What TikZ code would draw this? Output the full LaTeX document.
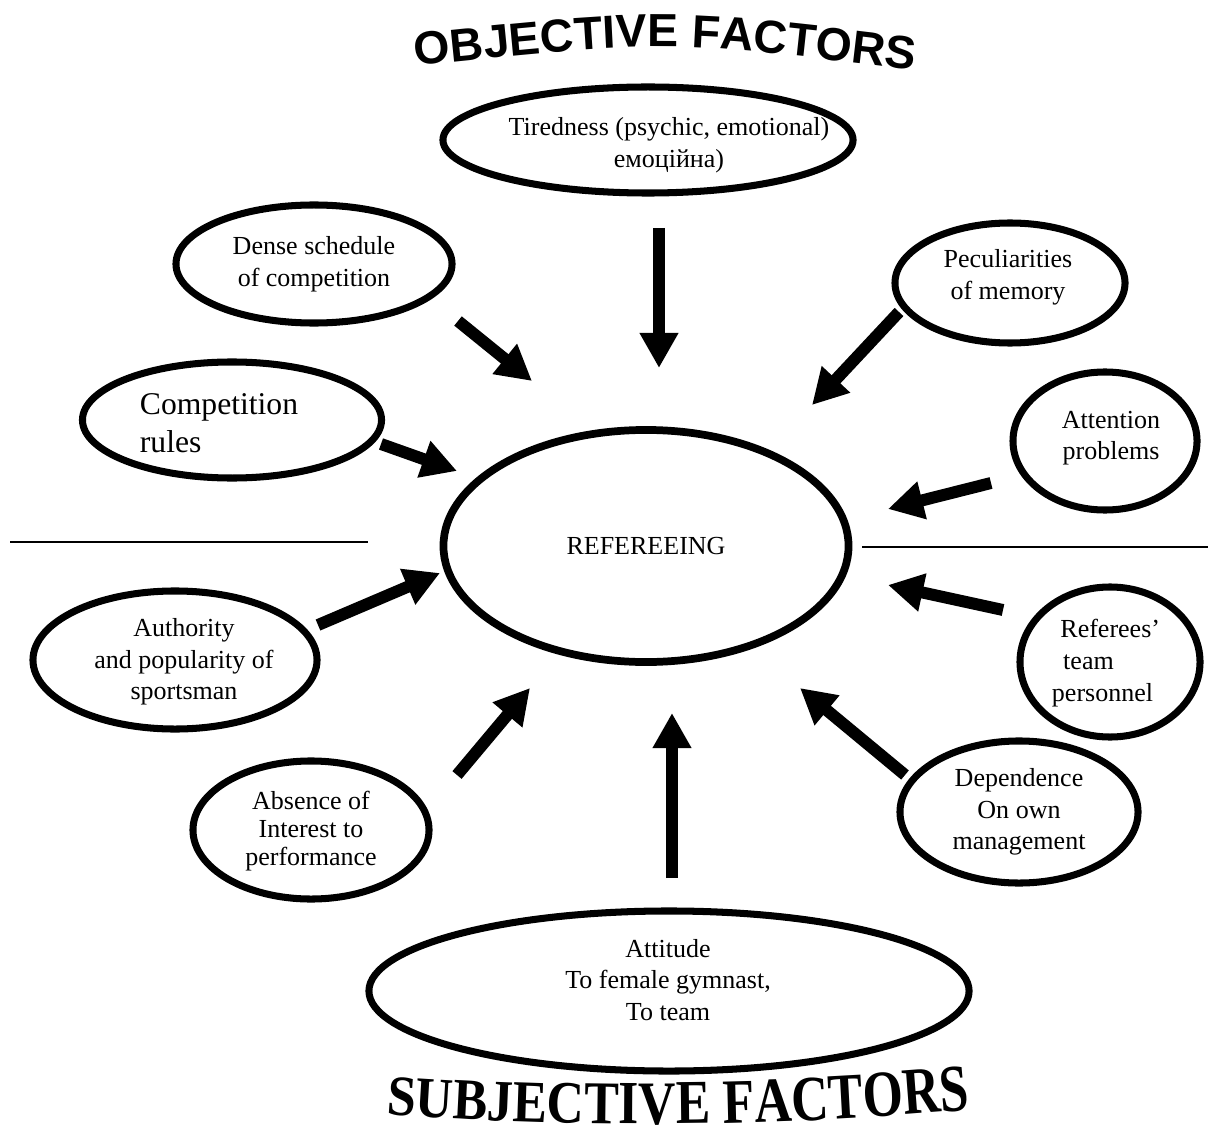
\documentclass[tikz,border=0pt]{standalone}
\usepackage{graphicx}
\usepackage{fontspec}
\setmainfont{Liberation Serif}
\newfontfamily\objfont{Liberation Sans}
\newfontfamily\subjfont{Liberation Serif}
\usetikzlibrary{shapes.geometric,arrows.meta,decorations.text,calc}
\begin{document}
\begin{tikzpicture}[x=0.025cm,y=-0.025cm,
  ell/.style={ellipse, draw, line width=5pt, inner sep=0pt},
  txt/.style={align=center, inner sep=0pt, font=\fontsize{18.5}{22.5}\selectfont},
  arr/.style={line width=8.5pt, -{Triangle[length=25pt,width=26pt]}},
  sepline/.style={line width=1.4pt}]
\useasboundingbox (0,0) rectangle (1208,1135);

% ellipses
\node[ell, minimum width=10.25cm, minimum height=2.65cm] (tired) at (648,140) {};
\node[ell, minimum width=6.9cm, minimum height=2.95cm] (dense) at (314,264) {};
\node[ell, minimum width=5.75cm, minimum height=3.0cm] (pecul) at (1010,283) {};
\node[ell, minimum width=7.475cm, minimum height=2.9cm] (comp) at (232,420) {};
\node[ell, minimum width=4.6cm, minimum height=3.45cm] (attn) at (1105,441) {};
\node[ell, line width=5.5pt, minimum width=10.125cm, minimum height=5.8cm] (ref) at (646,546) {};
\node[ell, minimum width=7.1cm, minimum height=3.45cm] (auth) at (175,660) {};
\node[ell, minimum width=4.5cm, minimum height=3.75cm] (refs) at (1110,662) {};
\node[ell, minimum width=5.9cm, minimum height=3.45cm] (absn) at (311,830) {};
\node[ell, minimum width=5.95cm, minimum height=3.55cm] (dep) at (1019,812) {};
\node[ell, minimum width=15cm, minimum height=4.0cm] (att) at (669,991) {};

% texts
\node[txt] (tiredT) at ($(tired)+(21,5)$) {Tiredness (psychic, emotional)\\емоційна)};
\node[txt] (denseT) at (dense) {Dense schedule\\of competition};
\node[txt] (peculT) at ($(pecul)+(-2,-6)$) {Peculiarities\\of memory};
\node[txt, align=left, font=\fontsize{22.5}{27}\selectfont] (compT) at ($(comp)+(-13,3)$) {Competition\\rules};
\node[txt] (attnT) at ($(attn)+(6,-3)$) {Attention\\problems};
\node[txt] (refT) at (ref) {REFEREEING};
\node[txt] (authT) at ($(auth)+(9,2)$) {Authority\\and popularity of\\sportsman};
\node[txt, align=left] (refsT) at ($(refs)+(-4,1)$) {\hspace*{6pt}Referees’\\\hspace*{8pt}team\\personnel};
\node[txt, font=\fontsize{18.5}{20}\selectfont] (absnT) at ($(absn)+(0,1)$) {Absence of\\Interest to\\performance};
\node[txt] (depT) at (dep) {Dependence\\On own\\management};
\node[txt] (attT) at ($(att)+(-1,-11)$) {Attitude\\To female gymnast,\\To team};

% separator lines
\coordinate (sl1) at (10,542);
\coordinate (sl2) at (368,542);
\coordinate (sr1) at (862,547);
\coordinate (sr2) at (1208,547);
\draw[sepline] (sl1) -- (sl2);
\draw[sepline] (sr1) -- (sr2);

% arrows
\coordinate (a1s) at (659,228);  \coordinate (a1e) at (659,368);
\coordinate (a2s) at (458,321);  \coordinate (a2e) at (532,381);
\coordinate (a3s) at (899,312);  \coordinate (a3e) at (812,405);
\coordinate (a4s) at (381,444);  \coordinate (a4e) at (457,471);
\coordinate (a5s) at (991,483);  \coordinate (a5e) at (888,509);
\coordinate (a6s) at (318,625);  \coordinate (a6e) at (440,573);
\coordinate (a7s) at (1003,610); \coordinate (a7e) at (888,585);
\coordinate (a8s) at (457,775);  \coordinate (a8e) at (530,688);
\coordinate (a9s) at (672,878);  \coordinate (a9e) at (672,713);
\coordinate (a10s) at (905,775); \coordinate (a10e) at (800,688);
\foreach \k in {1,...,10}{\draw[arr] (a\k s) -- (a\k e);}

% titles
\path[decorate, decoration={text along path, text align=center,
  text={|\objfont\bfseries\fontsize{33}{33}\selectfont|OBJECTIVE FACTORS}}]
  (414,66) .. controls (665,40) .. (916,70);

\foreach \ch/\c [count=\i] in {S/0.278,U/0.917,B/1.6115,J/2.195,E/2.7785,C/3.473,T/4.1675,I/4.6955,V/5.251,E/5.9455,F/6.8345,A/7.501,C/8.223,T/8.9175,O/9.640,R/10.390,S/11.029}{
  \pgfmathsetmacro\xx{386+\c*51.7}
  \pgfmathsetmacro\dx{(\xx-650)/100}
  \pgfmathsetmacro\yy{1124-1.4*\dx*\dx}
  \pgfmathsetmacro\ang{atan(0.028*\dx)}
  \pgfmathsetmacro\ys{1.1+0.2*\c/11.307}
  \node[anchor=base, rotate=\ang, inner sep=0pt] (subj\i) at (\xx,\yy)
    {\subjfont\bfseries\fontsize{36.8}{36.8}\selectfont\scalebox{1}[\ys]{\ch}};
}
\end{tikzpicture}
\end{document}
